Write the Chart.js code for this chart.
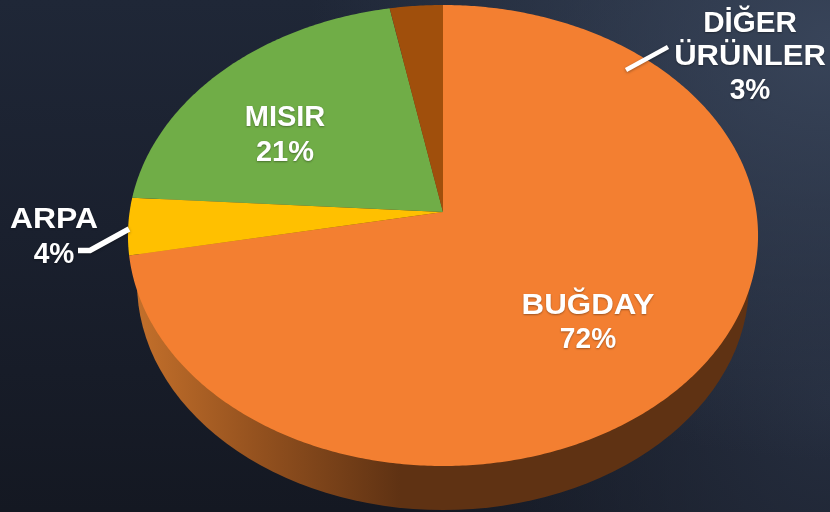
<!DOCTYPE html>
<html lang="tr">
<head>
<meta charset="utf-8">
<script src="https://cdn.jsdelivr.net/npm/chart.js@4/dist/chart.umd.js"></script>
<style>
html,body{margin:0;padding:0;width:830px;height:512px;overflow:hidden;background:
 radial-gradient(ellipse 520px 420px at 830px 40px,#384459 0%,rgba(56,68,89,.55) 45%,rgba(56,68,89,0) 100%),
 radial-gradient(ellipse 420px 520px at 830px 400px,#252d3e 0%,rgba(37,45,62,0) 100%),
 linear-gradient(180deg,#1f2737 0%,#1a202e 45%,#141822 100%);}
#wrap{position:absolute;left:0;top:0;width:830px;height:512px}
</style>
</head>
<body>
<div id="wrap"><canvas id="c" width="830" height="512"></canvas></div>
<script>
const categories = [['BUĞDAY'], ['ARPA'], ['MISIR'], ['DİĞER', 'ÜRÜNLER']];
const shares = [72, 4, 21, 3];
const sliceColors = ['#F37F31', '#FFC000', '#70AD47', '#A04F0C'];

// Tilted-disc projection of the pie's own angles (perspective, apex above ellipse centre)
const P = {cx: 443, R: 313.4, a: 206.5, b: 212, c: -0.102};
function project(angle, r) {
  const u = Math.cos(angle) * r, v = Math.sin(angle) * r, w = 1 + P.c * v;
  return [P.cx + P.R * u / w, (P.a * v + P.b) / w];
}
Chart.ArcElement.prototype.draw = function (ctx) {
  const {startAngle, endAngle} = this.getProps(['startAngle', 'endAngle']);
  const o = this.options;
  ctx.save();
  ctx.beginPath();
  ctx.moveTo(...project(0, 0));
  const steps = Math.max(8, Math.ceil((endAngle - startAngle) / 0.01));
  for (let i = 0; i <= steps; i++) {
    ctx.lineTo(...project(startAngle + (endAngle - startAngle) * i / steps, 1));
  }
  ctx.closePath();
  ctx.fillStyle = o.backgroundColor;
  ctx.fill();
  ctx.restore();
};

const wallPlugin = {
  id: 'wall',
  beforeDatasetsDraw(chart) {
    const ctx = chart.ctx;
    const g = ctx.createLinearGradient(135, 0, 400, 0);
    g.addColorStop(0, '#C4702B');
    g.addColorStop(0.45, '#95521F');
    g.addColorStop(1, '#5F3213');
    ctx.save();
    ctx.beginPath();
    ctx.ellipse(443, 283, 306, 227, 0, 0, Math.PI * 2);
    ctx.fillStyle = g;
    ctx.fill();
    ctx.restore();
  }
};

const labelPlugin = {
  id: 'sliceLabels',
  afterDatasetsDraw(chart) {
    const ctx = chart.ctx;
    const spots = [
      {x: 588, y: [314, 348], sx: [1.08, 0.97]},
      {x: 54, y: [228, 263], sx: [1.10, 0.97]},
      {x: 285, y: [126, 161], sx: [1, 1]},
      {x: 750, y: [32, 65, 99], sx: [1.02, 1.07, 0.97]}
    ];
    ctx.save();
    // leader lines
    ctx.strokeStyle = '#FFFFFF';
    ctx.lineCap = 'butt';
    ctx.lineJoin = 'miter';
    ctx.shadowColor = 'rgba(0,0,0,.35)';
    ctx.shadowBlur = 3;
    ctx.shadowOffsetY = 1;
    ctx.lineWidth = 4.5;
    ctx.beginPath(); ctx.moveTo(626, 70); ctx.lineTo(668, 47); ctx.stroke();
    ctx.lineWidth = 5.5;
    ctx.beginPath(); ctx.moveTo(129, 229); ctx.lineTo(90, 250.5); ctx.lineTo(78, 250.5); ctx.stroke();
    // text
    ctx.shadowBlur = 2;
    ctx.fillStyle = '#FFFFFF';
    ctx.font = 'bold 29px "Liberation Sans", Arial, sans-serif';
    ctx.textAlign = 'center';
    ctx.textBaseline = 'alphabetic';
    categories.forEach((lines, i) => {
      const all = [...lines, shares[i] + '%'];
      all.forEach((t, k) => {
        ctx.save();
        ctx.translate(spots[i].x, spots[i].y[k]);
        ctx.scale(spots[i].sx[k], 1);
        ctx.fillText(t, 0, 0);
        ctx.restore();
      });
    });
    ctx.restore();
  }
};

new Chart(document.getElementById('c'), {
  type: 'pie',
  data: {
    labels: categories.map(l => l.join(' ')),
    datasets: [{data: shares, backgroundColor: sliceColors, borderWidth: 0}]
  },
  options: {
    responsive: false,
    animation: false,
    plugins: {legend: {display: false}, tooltip: {enabled: false}}
  },
  plugins: [wallPlugin, labelPlugin]
});
</script>
</body>
</html>
